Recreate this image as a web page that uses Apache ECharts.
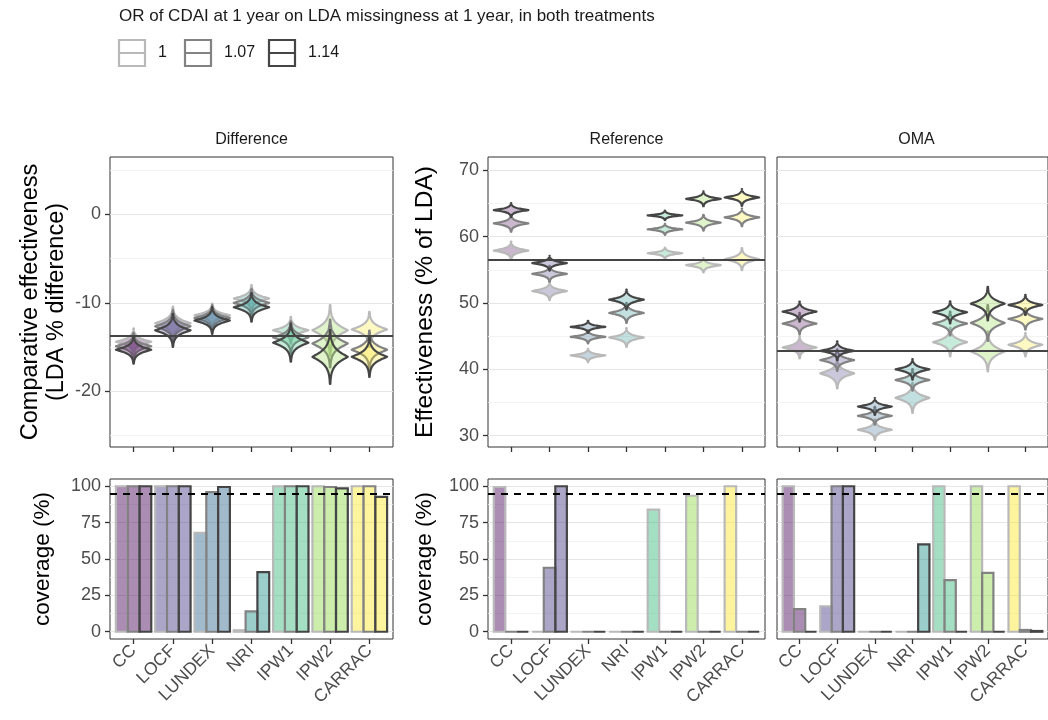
<!DOCTYPE html>
<html><head><meta charset="utf-8">
<script src="https://cdn.jsdelivr.net/npm/echarts@6/dist/echarts.min.js"></script>
<style>html,body{margin:0;padding:0;background:#fff}#c{width:1048px;height:720px}</style>
</head><body><div id="c"></div>
<script>
// ---------------- data ----------------
const methods = ['CC', 'LOCF', 'LUNDEX', 'NRI', 'IPW1', 'IPW2', 'CARRAC'];
const orLevels = ['1', '1.07', '1.14'];
const panelNames = ['Difference', 'Reference', 'OMA'];

// violin centres, one row per OR level (1, 1.07, 1.14)
const diffCenter = [
  [-14.4, -12.3, -11.4, -9.5, -13.1, -13.1, -13.0],
  [-14.9, -12.65, -11.7, -10.0, -13.9, -14.6, -15.3],
  [-15.3, -13.1, -12.0, -10.5, -14.5, -16.1, -16.1]
];
const diffSpread = [
  [0.42, 0.52, 0.37, 0.42, 0.42, 0.79, 0.55],
  [0.42, 0.52, 0.4, 0.43, 0.5, 0.75, 0.6],
  [0.44, 0.52, 0.42, 0.45, 0.6, 0.85, 0.63]
];
const refCenter = [
  [57.9, 51.8, 42.1, 44.8, 57.5, 55.7, 56.6],
  [62.0, 54.4, 44.9, 48.5, 61.1, 62.1, 62.9],
  [64.0, 56.0, 46.4, 50.5, 63.2, 65.7, 65.9]
];
const refSpread = [
  [0.38, 0.38, 0.28, 0.39, 0.24, 0.3, 0.46],
  [0.35, 0.33, 0.27, 0.42, 0.23, 0.33, 0.37],
  [0.29, 0.31, 0.25, 0.42, 0.2, 0.31, 0.35]
];
const omaCenter = [
  [43.3, 39.4, 30.9, 35.7, 44.1, 42.7, 43.7],
  [46.9, 41.4, 33.0, 38.4, 46.9, 47.0, 47.6],
  [48.7, 42.8, 34.4, 40.0, 48.6, 49.9, 49.7]
];
const omaSpread = [
  [0.46, 0.63, 0.42, 0.63, 0.6, 0.84, 0.49],
  [0.45, 0.45, 0.37, 0.45, 0.5, 0.75, 0.45],
  [0.42, 0.39, 0.35, 0.43, 0.46, 0.7, 0.42]
];
// reference (solid) lines
const diffRefLine = -13.7;
const refRefLine = 56.5;
const omaRefLine = 42.8;

// coverage (%), one row per OR level
const diffCoverage = [
  [100, 100, 68, 1, 100, 100, 100],
  [100, 100, 96, 14, 100, 99.5, 100],
  [100, 100, 99.5, 41, 100, 98.5, 92.7]
];
const refCoverage = [
  [99.5, 0, 0, 0, 84, 93.5, 100],
  [0, 44, 0, 0, 0, 0, 0],
  [0, 100, 0, 0, 0, 0, 0]
];
const omaCoverage = [
  [100, 17.5, 0, 0, 100, 100, 100],
  [15.5, 100, 0, 0, 35.5, 40.5, 1.2],
  [0, 100, 0, 60, 0, 0, 0.5]
];
const coverageTarget = 95;

// tick labels
const diffTicks = [-20, -10, 0];
const diffMinor = [-25, -15, -5, 5];
const effTicks = [30, 40, 50, 60, 70];
const effMinor = [35, 45, 55, 65];
const covTicks = [0, 25, 50, 75, 100];
const covMinor = [12.5, 37.5, 62.5, 87.5];

// ---------------- style ----------------
const methodColors = ['#440154', '#443A83', '#31688E', '#21908C', '#35B779', '#8FD744', '#FDE725'];
const orOutline = ['#b9b9b9', '#828282', '#454545'];
const FONT = '"Liberation Sans", Arial, sans-serif';

function rgba(hex, a) {
  const n = parseInt(hex.slice(1), 16);
  return 'rgba(' + ((n >> 16) & 255) + ',' + ((n >> 8) & 255) + ',' + (n & 255) + ',' + a + ')';
}

const grids = [
  { left: 110, top: 157, width: 283, height: 290 },
  { left: 488, top: 157, width: 277, height: 290 },
  { left: 777, top: 157, width: 279, height: 290 },
  { left: 110, top: 479, width: 283, height: 160 },
  { left: 488, top: 479, width: 277, height: 160 },
  { left: 777, top: 479, width: 279, height: 160 }
].map(g => Object.assign({ show: true, backgroundColor: '#fff', borderColor: '#333', borderWidth: 1, containLabel: false }, g));

const catPos = methods.map((m, i) => i);

const xAxes = grids.map((g, i) => ({
  type: 'value', gridIndex: i, min: -0.6, max: 6.6,
  axisLine: { show: false, onZero: false },
  axisTick: { show: true, customValues: catPos, length: 5, lineStyle: { color: '#333', width: 1.3 } },
  axisLabel: i < 3 ? { show: false } : {
    show: true, customValues: catPos, rotate: 45, margin: 9,
    formatter: v => methods[Math.round(v)], fontSize: 17.5, color: '#4d4d4d', fontFamily: FONT
  },
  splitLine: { show: false }
}));

function yAxis(i, min, max, ticks, showLabels, name, gap, nameSize) {
  return {
    type: 'value', gridIndex: i, min: min, max: max,
    axisLine: { show: false, onZero: false },
    axisTick: { show: showLabels, customValues: ticks, length: 5, lineStyle: { color: '#333', width: 1.3 } },
    axisLabel: { show: showLabels, customValues: ticks, fontSize: 18, color: '#4d4d4d', fontFamily: FONT, margin: 9 },
    splitLine: { show: false },
    name: name || '', nameLocation: 'middle', nameRotate: 90, nameGap: gap || 0,
    nameTextStyle: { fontSize: nameSize || 22, color: '#000', fontFamily: FONT, lineHeight: 26 }
  };
}
const yAxes = [
  yAxis(0, -26.3, 6.5, diffTicks, true, 'Comparative effectiveness\n(LDA % difference)', 40, 23.5),
  yAxis(1, 28.3, 72, effTicks, true, 'Effectiveness (% of LDA)', 50, 24.5),
  yAxis(2, 28.3, 72, effTicks, false),
  yAxis(3, -5, 105, covTicks, true, 'coverage (%)', 54, 22.5),
  yAxis(4, -5, 105, covTicks, true, 'coverage (%)', 50, 22.5),
  yAxis(5, -5, 105, covTicks, false)
];

const series = [];

// gridlines (major + minor) behind the marks
const gridSets = [
  [diffTicks, diffMinor], [effTicks, effMinor], [effTicks, effMinor],
  [covTicks, covMinor], [covTicks, covMinor], [covTicks, covMinor]
];
gridSets.forEach((gs, i) => {
  series.push({
    type: 'line', xAxisIndex: i, yAxisIndex: i, data: [], silent: true, z: 1,
    markLine: {
      silent: true, z: 1, symbol: ['none', 'none'], label: { show: false }, animation: false,
      data: gs[0].map(v => ({ yAxis: v, lineStyle: { color: '#e6e6e6', width: 1.2, type: 'solid' } }))
        .concat(gs[1].map(v => ({ yAxis: v, lineStyle: { color: '#f0f0f0', width: 0.8, type: 'solid' } })))
    }
  });
});

// violins
function violinRenderer(k) {
  return function (params, api) {
    const x = api.value(0), c = api.value(1), b = api.value(2);
    const n = 60, T = 3.6, hw = 0.45;
    const right = [], left = [];
    for (let i = 0; i <= n; i++) {
      const t = -T + 2 * T * i / n;
      const w = hw * Math.exp(-Math.pow(Math.abs(t), 1.15));
      const y = c + t * b;
      right.push(api.coord([x + w, y]));
      left.push(api.coord([x - w, y]));
    }
    const pts = right.concat(left.reverse());
    return {
      type: 'polygon', shape: { points: pts },
      style: { fill: rgba(methodColors[x], 0.28), stroke: orOutline[k], lineWidth: 2.2, lineJoin: 'round' }
    };
  };
}
const violinSets = [[diffCenter, diffSpread], [refCenter, refSpread], [omaCenter, omaSpread]];
violinSets.forEach((vs, p) => {
  orLevels.forEach((lvl, k) => {
    series.push({
      type: 'custom', name: lvl, xAxisIndex: p, yAxisIndex: p, z: 3 + k, clip: true,
      renderItem: violinRenderer(k),
      data: methods.map((m, i) => [i, vs[0][k][i], vs[1][k][i]]),
      animation: false, silent: true
    });
  });
});

// solid reference lines
[diffRefLine, refRefLine, omaRefLine].forEach((v, p) => {
  series.push({
    type: 'line', xAxisIndex: p, yAxisIndex: p, data: [], silent: true, z: 10,
    markLine: { silent: true, z: 20, symbol: ['none', 'none'], label: { show: false }, animation: false,
      data: [{ yAxis: v }], lineStyle: { color: '#444', width: 1.8, type: 'solid' } }
  });
});

// coverage bars
function barRenderer(k) {
  return function (params, api) {
    const x = api.value(0), v = api.value(1);
    const off = (k - 1) * 0.3;
    const p1 = api.coord([x + off - 0.15, v]);
    const p0 = api.coord([x + off + 0.15, 0]);
    return {
      type: 'rect',
      shape: { x: p1[0], y: p1[1], width: p0[0] - p1[0], height: p0[1] - p1[1] },
      style: { fill: rgba(methodColors[x], 0.45), stroke: orOutline[k], lineWidth: 2.2 }
    };
  };
}
[diffCoverage, refCoverage, omaCoverage].forEach((cov, p) => {
  orLevels.forEach((lvl, k) => {
    series.push({
      type: 'custom', name: lvl, xAxisIndex: 3 + p, yAxisIndex: 3 + p, z: 3 + k,
      renderItem: barRenderer(k),
      data: methods.map((m, i) => [i, cov[k][i]]),
      animation: false, silent: true
    });
  });
  series.push({
    type: 'line', xAxisIndex: 3 + p, yAxisIndex: 3 + p, data: [], silent: true, z: 10,
    markLine: { silent: true, z: 20, symbol: ['none', 'none'], label: { show: false }, animation: false,
      data: [{ yAxis: coverageTarget }], lineStyle: { color: '#000', width: 2, type: [7, 6] } }
  });
});

// titles, strip labels, legend (text + keys)
const graphic = [
  { type: 'text', x: 119, y: 16, style: { text: 'OR of CDAI at 1 year on LDA missingness at 1 year, in both treatments', fontSize: 17, fill: '#1a1a1a', fontFamily: FONT, textVerticalAlign: 'middle' } }
];
const stripCenters = [251.5, 626.5, 916.5];
panelNames.forEach((n, i) => graphic.push({ type: 'text', x: stripCenters[i], y: 140, style: { text: n, fontSize: 16, fill: '#1a1a1a', fontFamily: FONT, textAlign: 'center', textVerticalAlign: 'middle' } }));
const legendX = [119, 185, 269];
orLevels.forEach((lvl, k) => {
  const x0 = legendX[k], y0 = 40, s = 26;
  graphic.push({ type: 'rect', shape: { x: x0, y: y0, width: s, height: s }, style: { fill: '#fff', stroke: orOutline[k], lineWidth: 2.2 } });
  graphic.push({ type: 'line', shape: { x1: x0, y1: y0 + s / 2, x2: x0 + s, y2: y0 + s / 2 }, style: { stroke: orOutline[k], lineWidth: 2 } });
  graphic.push({ type: 'text', x: x0 + s + 13, y: y0 + s / 2, style: { text: lvl, fontSize: 16, fill: '#1a1a1a', fontFamily: FONT, textVerticalAlign: 'middle' } });
});

const chart = echarts.init(document.getElementById('c'), null, { renderer: 'canvas' });
chart.setOption({
  animation: false,
  backgroundColor: '#fff',
  textStyle: { fontFamily: FONT },
  grid: grids,
  xAxis: xAxes,
  yAxis: yAxes,
  series: series,
  graphic: graphic
});
</script>
</body></html>
